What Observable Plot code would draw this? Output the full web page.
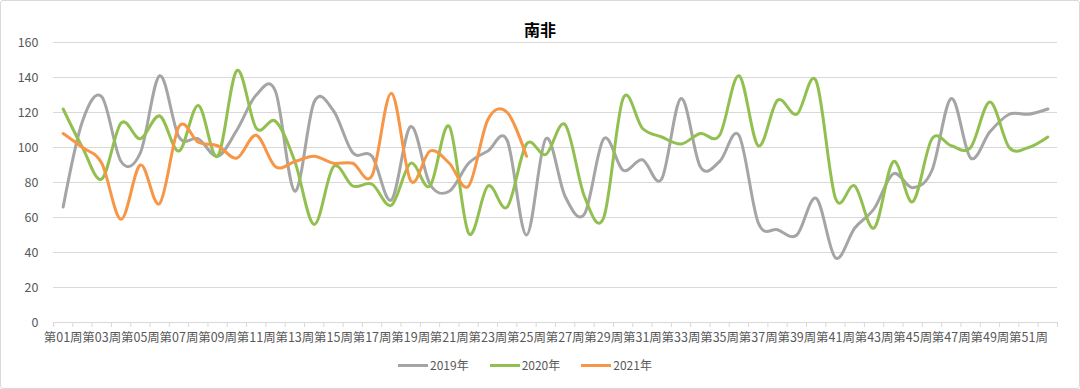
<!DOCTYPE html>
<html><head><meta charset="utf-8">
<script src="https://cdn.jsdelivr.net/npm/d3@7"></script>
<script src="https://cdn.jsdelivr.net/npm/@observablehq/plot@0.6"></script>
<style>
body{margin:0;background:#fff;font-family:"Noto Sans CJK SC","Noto Sans",sans-serif;}
#frame{position:relative;width:1080px;height:389px;overflow:hidden;background:#fff}
#border{position:absolute;left:0;top:0;width:1078px;height:387px;border:1px solid #d9d9d9;border-radius:3px;pointer-events:none}
#title{position:absolute;top:18px;left:0;width:100%;text-align:center;font-size:16px;font-weight:bold;color:#000;line-height:22px}
#chart{position:absolute;top:26px;left:0}
#legend{position:absolute;top:356px;left:398px;display:flex;align-items:center;font-size:12px;color:#595959;line-height:18px}
.item{display:flex;align-items:center;margin-right:21px}
.sw{width:30px;height:3px;margin-right:2px}
</style></head>
<body>
<div id="frame">
  <div id="title">南非</div>
  <div id="chart"></div>
  <div id="legend"></div>
  <div id="border"></div>
</div>
<script>
const weeks = d3.range(1, 53);
const tickWeeks = [1,3,5,7,9,11,13,15,17,19,21,23,25,27,29,31,33,35,37,39,41,43,45,47,49,51];
const yTicks = [0,20,40,60,80,100,120,140,160];
const seriesNames = ["2019年","2020年","2021年"];
const seriesColors = ["#a5a5a5","#92c050","#f79646"];

const s2019 = [66,115,129,92,97,141,106,105,95,110,130,132,75,126,121,97,95,70,112,79,75,91,98,104,50,105,72,62,105,87,93,82,128,89,92,107,57,53,50,71,37,54,65,85,77,87,128,94,109,119,119,122];
const s2020 = [122,100,82,114,105,118,98,124,95,144,111,115,92,56,89,78,79,67,91,78,112,51,78,66,102,96,113,72,60,128,111,106,102,108,107,141,101,127,119,138,71,78,54,92,69,105,101,100,126,100,100,106];
const s2021 = [108,100,91,59,90,68,112,103,101,94,107,89,92,95,91,91,84,131,81,98,91,78,116,120,95];

const seriesValues = [s2019, s2020, s2021];
const rows = [];
seriesValues.forEach((vals, i) => vals.forEach((v, j) => rows.push({week: weeks[j], value: v, series: seriesNames[i]})));
const boundaries = weeks.map(w => w - 0.5).concat([weeks[weeks.length - 1] + 0.5]);
const fmt = w => `第${String(w).padStart(2, "0")}周`;

const chart = Plot.plot({
  width: 1080, height: 326,
  marginTop: 16, marginLeft: 53, marginRight: 23, marginBottom: 30,
  x: {type: "linear", domain: [0.5, 52.5]},
  y: {domain: [0, 160]},
  color: {domain: seriesNames, range: seriesColors},
  style: {fontFamily: '"Noto Sans CJK SC","Noto Sans",sans-serif', color: "#595959", background: "transparent"},
  marks: [
    Plot.ruleY(yTicks, {stroke: "#d9d9d9", strokeWidth: 1, strokeOpacity: 1}),
    Plot.axisX(boundaries, {tickSize: 5, tickFormat: () => "", stroke: "#d9d9d9", strokeOpacity: 1, label: null}),
    Plot.axisX(tickWeeks, {tickSize: 0, tickPadding: 11, tickFormat: fmt, fontSize: 12.5, fill: "#595959", label: null}),
    Plot.axisY(yTicks, {tickSize: 0, tickPadding: 15, fontSize: 12.5, fill: "#595959", label: null}),
    Plot.line(rows, {x: "week", y: "value", z: "series", stroke: "series", strokeWidth: 3, curve: "cardinal", strokeLinecap: "round", strokeLinejoin: "round"})
  ]
});
document.getElementById("chart").appendChild(chart);

const legend = document.getElementById("legend");
seriesNames.forEach((n, i) => {
  const it = document.createElement("div"); it.className = "item";
  const sw = document.createElement("div"); sw.className = "sw"; sw.style.background = seriesColors[i];
  const tx = document.createElement("span"); tx.textContent = n;
  it.appendChild(sw); it.appendChild(tx); legend.appendChild(it);
});
</script>
</body></html>
